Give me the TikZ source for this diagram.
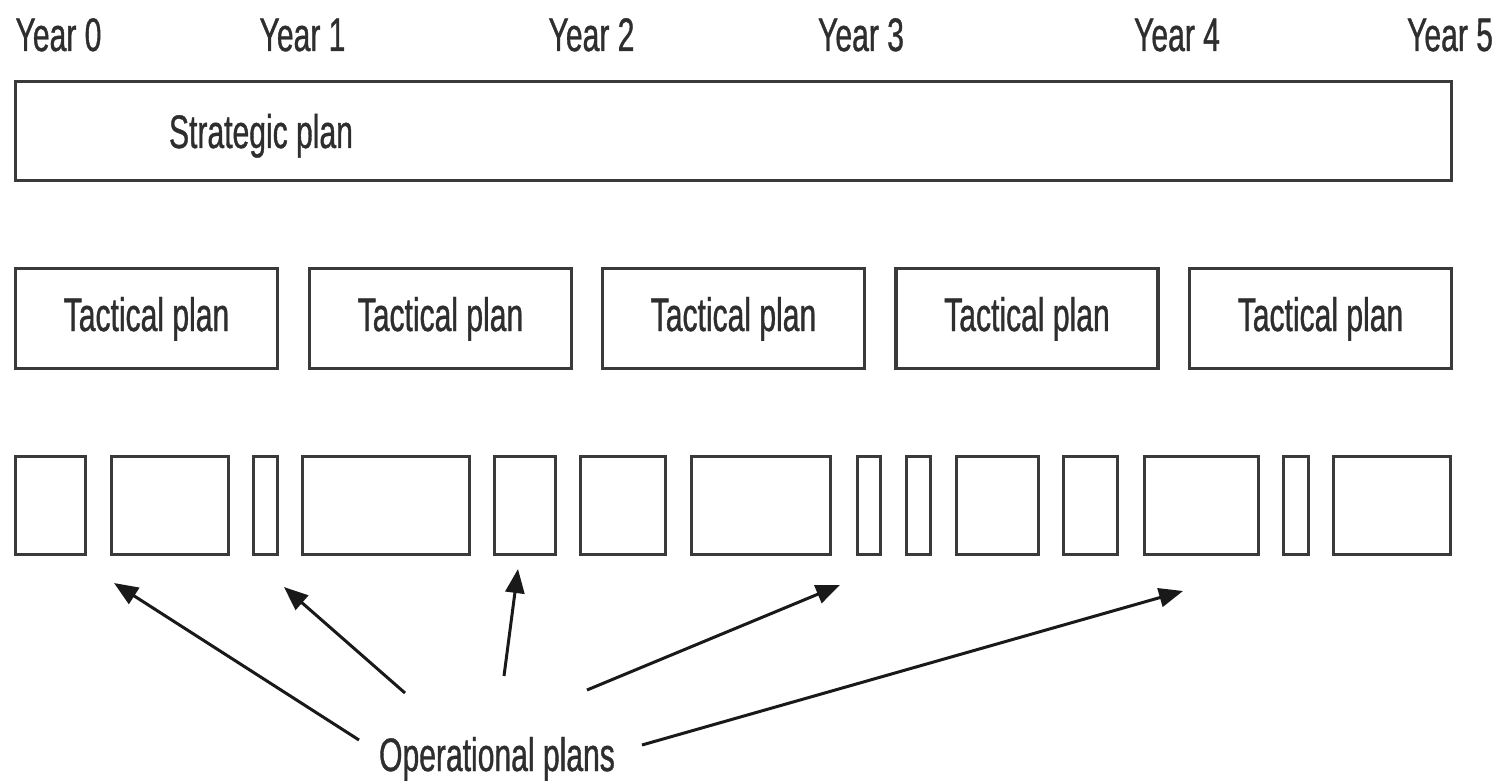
\documentclass[tikz,border=0pt]{standalone}
\usepackage{fontspec}
\setmainfont{Liberation Sans}[FakeStretch=0.64, FakeBold=0.8]
\usetikzlibrary{arrows.meta}
\definecolor{ink}{HTML}{2E2E2E}
\definecolor{frame}{HTML}{3A3A3A}
\begin{document}
\begin{tikzpicture}[x=1pt,y=-1pt,
  lbl/.style={font=\fontsize{47}{52}\selectfont, text=ink, inner sep=0pt, anchor=base},
  planbox/.style={draw=frame, line width=3.2pt, rectangle, inner sep=0pt},
  pointer/.style={draw=black!90, line width=3pt,
    -{Triangle[length=24pt,width=19pt]}}]
  \fill[white] (0,0) rectangle (1507,781);
  \useasboundingbox (0,0) rectangle (1507,781);

  % time scale
  \foreach \x/\n in {58.5/0, 302.5/1, 591.5/2, 861/3, 1177/4, 1450/5}
    \node[lbl] (year\n) at (\x,51) {Year \n};

  % strategic plan spans the whole horizon
  \node[planbox, minimum width=1436pt, minimum height=99pt] (strategic) at (733.5,131) {};
  \node[lbl] (strategictext) at (261,148) {Strategic plan};

  % one tactical plan per year
  \foreach \c [count=\i] in {146.5, 440.5, 733.5, 1027, 1320.5} {
    \node[planbox, minimum width=262pt, minimum height=100pt] (tactical\i) at (\c,318.5) {};
    \node[lbl] (tacticaltext\i) at (\c,331) {Tactical plan};
  }

  % operational plans of varying length
  \foreach \l/\r [count=\i] in {14/87, 110/230, 252/279, 301/471, 493/557, 579/667,
      690/832, 856/882, 905/932, 955/1040, 1062/1119, 1143/1260, 1282/1310, 1332/1452}
    \node[planbox, minimum width={\r-\l-3}, minimum height=98pt] (op\i) at ({(\l+\r)/2},505.5) {};

  % caption and its pointers
  \node[lbl] (opslabel) at (497,771) {Operational plans};
  \coordinate (tail1) at (359,740);  \coordinate (tip1) at (114,583);
  \coordinate (tail2) at (405,693);  \coordinate (tip2) at (284,587);
  \coordinate (tail3) at (504,676);  \coordinate (tip3) at (518,569);
  \coordinate (tail4) at (587,690);  \coordinate (tip4) at (840,585);
  \coordinate (tail5) at (642,745);  \coordinate (tip5) at (1183,591);
  \foreach \k in {1,...,5}
    \draw[pointer] (tail\k) -- (tip\k);
\end{tikzpicture}
\end{document}
